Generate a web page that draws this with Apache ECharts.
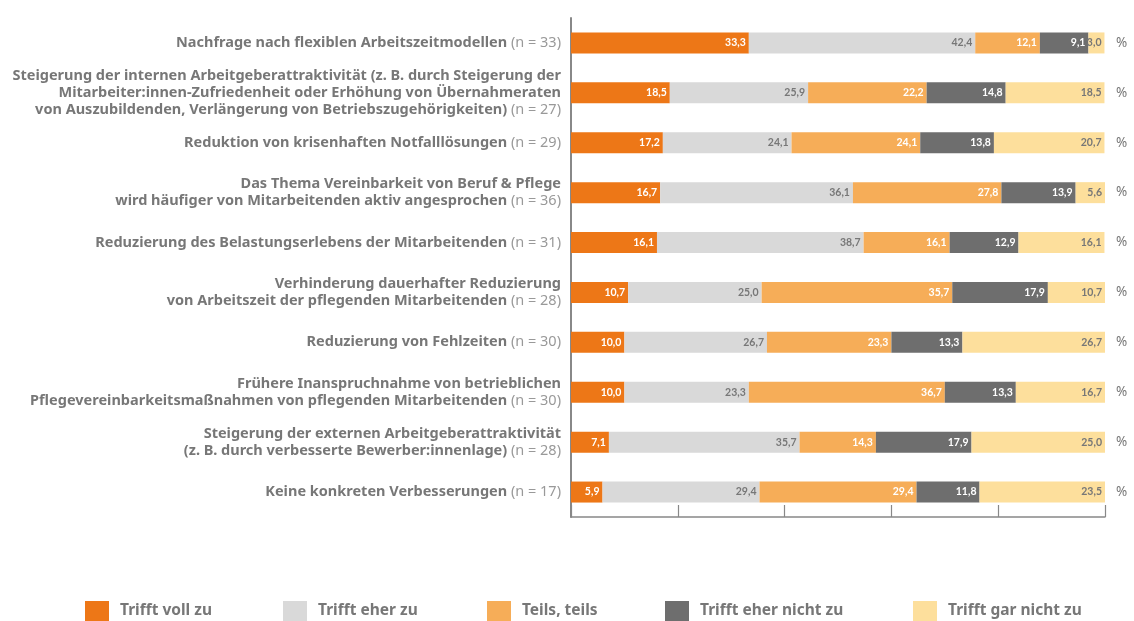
<!DOCTYPE html>
<html>
<head>
<meta charset="utf-8">
<script src="https://cdn.jsdelivr.net/npm/echarts@6/dist/echarts.min.js"></script>
<style>
  html, body { margin: 0; padding: 0; background: #fff; }
  #chart { width: 1134px; height: 621px; }
</style>
</head>
<body>
<div id="chart"></div>
<script>
const categories = [
  'Nachfrage nach flexiblen Arbeitszeitmodellen',
  'Steigerung der internen Arbeitgeberattraktivität (z. B. durch Steigerung der\nMitarbeiter:innen-Zufriedenheit oder Erhöhung von Übernahmeraten\nvon Auszubildenden, Verlängerung von Betriebszugehörigkeiten)',
  'Reduktion von krisenhaften Notfalllösungen',
  'Das Thema Vereinbarkeit von Beruf & Pflege\nwird häufiger von Mitarbeitenden aktiv angesprochen',
  'Reduzierung des Belastungserlebens der Mitarbeitenden',
  'Verhinderung dauerhafter Reduzierung\nvon Arbeitszeit der pflegenden Mitarbeitenden',
  'Reduzierung von Fehlzeiten',
  'Frühere Inanspruchnahme von betrieblichen\nPflegevereinbarkeitsmaßnahmen von pflegenden Mitarbeitenden',
  'Steigerung der externen Arbeitgeberattraktivität\n(z. B. durch verbesserte Bewerber:innenlage)',
  'Keine konkreten Verbesserungen'
]
const sampleSizes = [33, 27, 29, 36, 31, 28, 30, 30, 28, 17]

const seriesNames = ['Trifft voll zu', 'Trifft eher zu', 'Teils, teils', 'Trifft eher nicht zu', 'Trifft gar nicht zu']
const voll = [33.3, 18.5, 17.2, 16.7, 16.1, 10.7, 10.0, 10.0, 7.1, 5.9]
const eher = [42.4, 25.9, 24.1, 36.1, 38.7, 25.0, 26.7, 23.3, 35.7, 29.4]
const teils = [12.1, 22.2, 24.1, 27.8, 16.1, 35.7, 23.3, 36.7, 14.3, 29.4]
const eherNicht = [9.1, 14.8, 13.8, 13.9, 12.9, 17.9, 13.3, 13.3, 17.9, 11.8]
const garNicht = [3.0, 18.5, 20.7, 5.6, 16.1, 10.7, 26.7, 16.7, 25.0, 23.5]

const colors = ['#ED7717', '#D9D9D9', '#F6AD58', '#6E6E6E', '#FDDF9C']
const labelColors = ['#fff', '#777', '#fff', '#fff', '#777']
const values = [voll, eher, teils, eherNicht, garNicht]

const chart = echarts.init(document.getElementById('chart'), null, { renderer: 'canvas' })

const fmtLabel = (name) => {
  const i = categories.indexOf(name)
  const lines = name.split('\n')
  return lines.map((l, k) => k === lines.length - 1
    ? `{b|${l}}{n| (n = ${sampleSizes[i]})}`
    : `{b|${l}}`).join('\n')
}

const legendLeft = [85, 283, 487, 665, 913]

const option = {
  backgroundColor: '#fff',
  animation: false,
  textStyle: { fontFamily: '"Noto Sans", sans-serif' },
  grid: { left: 571, right: 29, top: 18, bottom: 104, outerBoundsMode: 'none', containLabel: false },
  legend: seriesNames.map((s, i) => ({
    data: [s],
    left: legendLeft[i],
    top: 601,
    padding: 0,
    itemWidth: 24,
    itemHeight: 20,
    itemGap: 0,
    icon: 'rect',
    textStyle: { color: '#777', fontSize: 15.5, fontWeight: 'bold', padding: [2, 0, 0, 6] },
    selectedMode: false
  })),
  xAxis: {
    type: 'value',
    min: 0,
    max: 100,
    interval: 20,
    axisLine: { show: true, lineStyle: { color: '#888', width: 1.5 } },
    axisTick: { show: true, inside: true, length: 12, lineStyle: { color: '#888', width: 1.2 } },
    axisLabel: { show: false },
    splitLine: { show: false }
  },
  yAxis: [
    {
      type: 'category',
      inverse: true,
      data: categories,
      axisLine: { show: true, lineStyle: { color: '#888', width: 2 } },
      axisTick: { show: false },
      axisLabel: {
        margin: 10,
        align: 'right',
        formatter: fmtLabel,
        rich: {
          b: { fontSize: 14.5, fontWeight: 'bold', color: '#777', lineHeight: 17 },
          n: { fontSize: 14.5, fontWeight: 'normal', color: '#999', lineHeight: 17 }
        }
      }
    },
    {
      type: 'category',
      inverse: true,
      position: 'right',
      data: categories,
      axisLine: { show: false },
      axisTick: { show: false },
      axisLabel: {
        margin: 11,
        formatter: () => '%',
        color: '#777',
        fontSize: 13.5
      }
    }
  ],
  series: seriesNames.map((s, i) => ({
    name: s,
    type: 'bar',
    stack: 'total',
    barWidth: 21,
    data: values[i],
    itemStyle: { color: colors[i] },
    label: {
      show: true,
      position: 'insideRight',
      distance: 3,
      color: labelColors[i],
      fontSize: 10.5,
      fontWeight: 'bold',
      fontFamily: 'Lato, sans-serif',
      formatter: (p) => p.value.toFixed(1).replace('.', ',')
    }
  }))
}

chart.setOption(option)
</script>
</body>
</html>
